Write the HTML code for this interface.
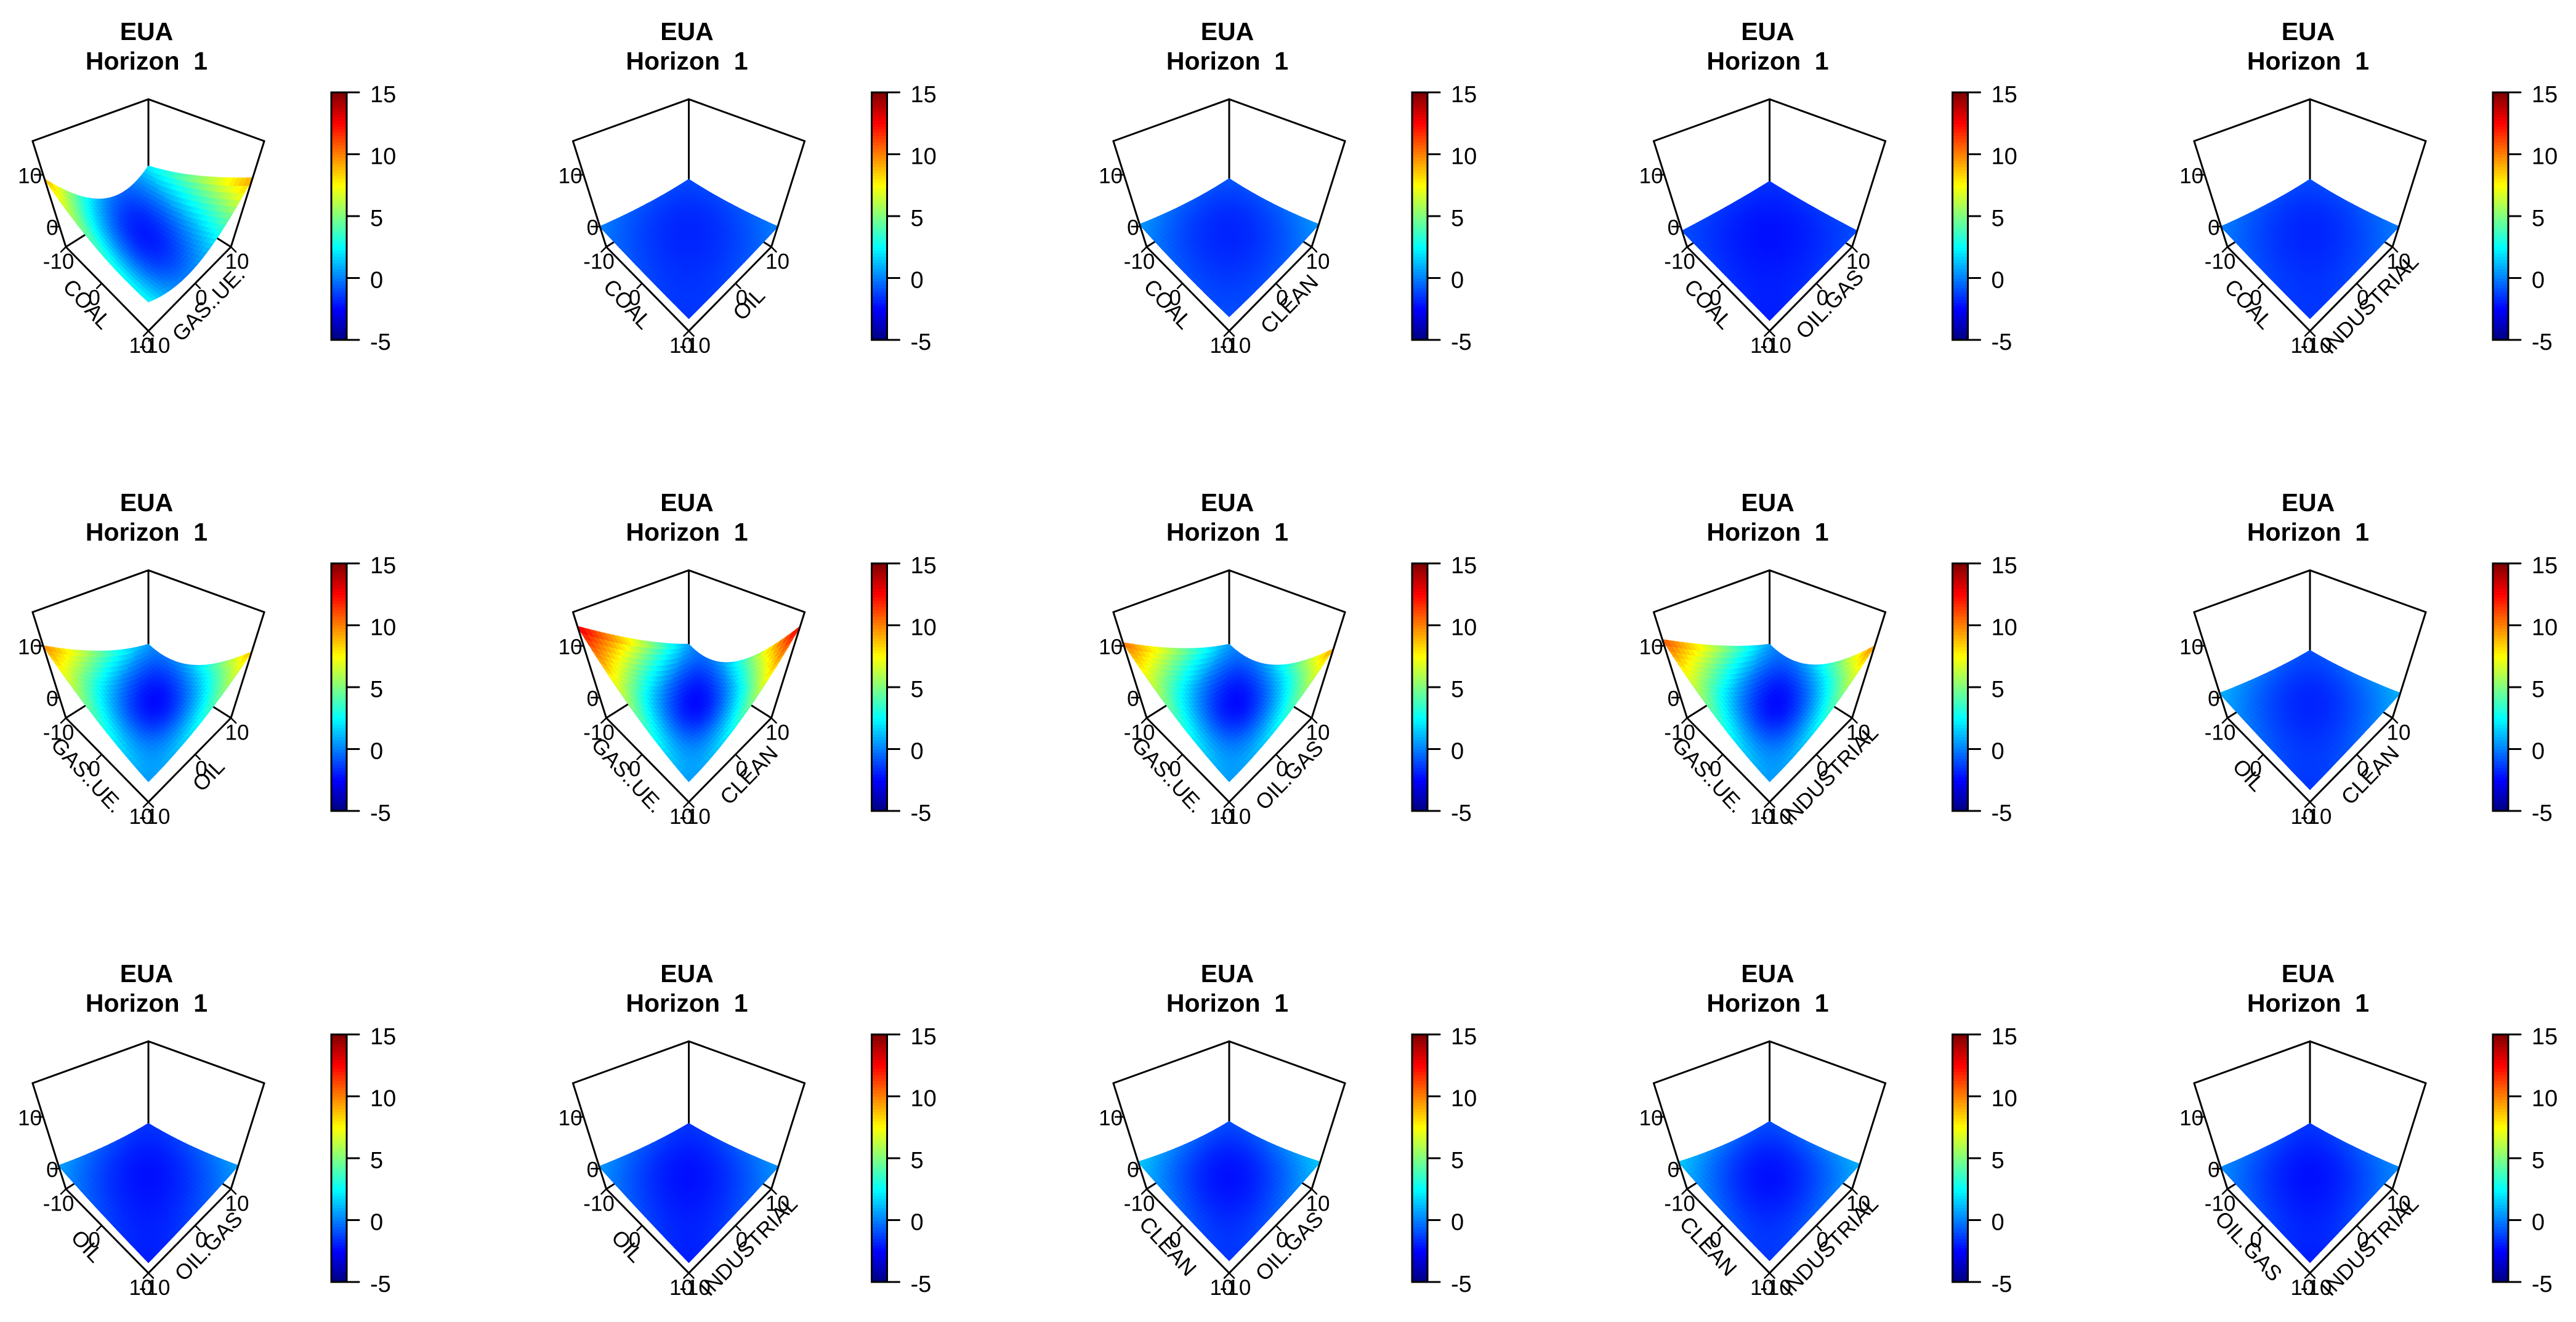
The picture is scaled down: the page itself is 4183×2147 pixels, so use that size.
<!DOCTYPE html>
<html><head><meta charset="utf-8"><title>EUA Horizon 1 surfaces</title>
<style>
html,body{margin:0;padding:0;background:#fff;}
svg{display:block;font-family:"Liberation Sans",Arial,sans-serif;}
</style></head>
<body>
<svg id="chart" width="4183" height="2147" viewBox="0 0 4183 2147" xmlns="http://www.w3.org/2000/svg"></svg>
<script>
// ---- data ----
const panelTitles = ["EUA","EUA","EUA","EUA","EUA","EUA","EUA","EUA","EUA","EUA","EUA","EUA","EUA","EUA","EUA"];
const xLabels = ["COAL","COAL","COAL","COAL","COAL","GAS..UE.","GAS..UE.","GAS..UE.","GAS..UE.","OIL","OIL","OIL","CLEAN","CLEAN","OIL.GAS"];
const yLabels = ["GAS..UE.","OIL","CLEAN","OIL.GAS","INDUSTRIAL","OIL","CLEAN","OIL.GAS","INDUSTRIAL","CLEAN","OIL.GAS","INDUSTRIAL","OIL.GAS","INDUSTRIAL","INDUSTRIAL"];
// 3x3 response grid per panel, order (x,y): (-10,-10),(-10,0),(-10,10),(0,-10),(0,0),(0,10),(10,-10),(10,0),(10,10)
const zGrid = [
  [9.3,0,2.2, 4,-2,5, 2.5,0.5,9.5],
  [0,-1,-1, -1,-1.8,-1, -1.5,-1,0],
  [0.5,-0.8,-0.8, -0.8,-1.8,-0.8, -1,-0.8,0.5],
  [-1,-1.5,-1.5, -1.5,-2.2,-1.5, -2,-1.5,-1],
  [0,-1,-1, -1,-1.8,-1, -1.5,-1,0],
  [10,4,0.5, 4,-2.2,1, 0.5,3,9],
  [13,6,0.5, 5,-2.2,1.5, 0.5,4,13],
  [10.5,4.5,0.5, 4,-2.2,1, 0.5,3,9.5],
  [11,5,0.5, 4,-2.2,1, 0.5,3,10],
  [1,-0.5,-1, -0.5,-1.8,-0.5, -1.5,-0.5,1],
  [0.7,-1,-1.5, -1,-2.2,-1, -2,-1,0.7],
  [0.5,-1,-1.5, -1,-2.2,-1, -2,-1,0.5],
  [1.5,-0.5,-1, -0.5,-2.2,-0.5, -1.5,-0.5,1.5],
  [1.5,-0.5,-1, -0.5,-2.2,-0.5, -1.5,-0.5,1],
  [0.3,-1,-1.5, -1,-2.2,-1, -2,-1,0.3]
];
const zTicks = [0, 10];
const axisTicks = [-10, 0, 10];
const cbTicks = [-5, 0, 5, 10, 15];
const zMin = -5, zMax = 15;

const NS = "http://www.w3.org/2000/svg";
const svg = document.getElementById("chart");
function mk(tag, attrs, parent){
  const e = document.createElementNS(NS, tag);
  for (const k in attrs) e.setAttribute(k, attrs[k]);
  (parent||svg).appendChild(e);
  return e;
}
const jetStops = [[0,[0,0,127]],[1/8,[0,0,255]],[3/8,[0,255,255]],[5/8,[255,255,0]],[7/8,[255,0,0]],[1,[127,0,0]]];
function jet(v){
  let t = (v - zMin)/(zMax - zMin); t = Math.max(0, Math.min(1, t));
  for (let i=1;i<jetStops.length;i++){
    if (t <= jetStops[i][0]){
      const a = jetStops[i-1], b = jetStops[i];
      const f = (t - a[0])/(b[0]-a[0]);
      const c = a[1].map((x,j)=>Math.round(x + (b[1][j]-x)*f));
      return "rgb("+c.join(",")+")";
    }
  }
  return "rgb(127,0,0)";
}
function L(t){ return [t*(t-1)/2, 1-t*t, t*(t+1)/2]; }
function interp(g, u, v){
  const a = L(u), b = L(v); let s = 0;
  for (let i=0;i<3;i++) for (let j=0;j<3;j++) s += a[i]*b[j]*g[i*3+j];
  return s;
}
const CC = 0.755, SS = 0.655, DD = 3.9, KK = 431.6;
function proj(ox, oy, u, v, z){
  const X = (u+v)/Math.SQRT2, Y = (v-u)/Math.SQRT2;
  const Z = (z - zMin)/(zMax - zMin)*2 - 1;
  const Vy = Y*SS + Z*CC, D = Y*CC - Z*SS;
  const sc = KK/(DD + D);
  return {x: ox + 241 + X*sc, y: oy + 329.5 - Vy*sc, d: D};
}
function line(g, p, q, name, w){
  const l = mk("line", {x1:p.x.toFixed(1), y1:p.y.toFixed(1), x2:q.x.toFixed(1), y2:q.y.toFixed(1), stroke:"#000", "stroke-width": w||3, "stroke-linecap":"round"}, g);
  
  
  return l;
}
function text(g, x, y, str, size, name, extra){
  const t = mk("text", Object.assign({x:x.toFixed(1), y:y.toFixed(1), "font-size":size, fill:"#000", "text-anchor":"middle", "dominant-baseline":"central"}, extra||{}), g);
  t.textContent = str;
  
  
  return t;
}

for (let p = 0; p < 15; p++){
  const row = Math.floor(p/5), col = p%5;
  const ox = col*877.5, oy = row*765;
  const g = mk("g", {});
  
  
  text(g, ox+238, oy+51, panelTitles[p], 41, 'panel-title', {"font-weight":"bold"});
  text(g, ox+238, oy+99, "Horizon\u00a0\u00a01", 41, 'panel-subtitle', {"font-weight":"bold"});
  const P = (u,v,z)=>proj(ox,oy,u,v,z);
  const bl = P(-1,-1,zMin), bb = P(-1,1,zMin), br = P(1,1,zMin), bf = P(1,-1,zMin);
  const tl = P(-1,-1,zMax), tb = P(-1,1,zMax), tr = P(1,1,zMax);
  line(g, bl, bb, 'box-base-back-left');
  line(g, bb, br, 'box-base-back-right');
  line(g, tb, bb, 'box-back-vertical');
  const N = 30, quads = [];
  const zg = zGrid[p];
  for (let i=0;i<N;i++) for (let j=0;j<N;j++){
    const u0=-1+2*i/N, u1=-1+2*(i+1)/N, v0=-1+2*j/N, v1=-1+2*(j+1)/N;
    const z00=interp(zg,u0,v0), z01=interp(zg,u0,v1), z11=interp(zg,u1,v1), z10=interp(zg,u1,v0);
    const pts=[P(u0,v0,z00),P(u0,v1,z01),P(u1,v1,z11),P(u1,v0,z10)];
    const zc=(z00+z01+z11+z10)/4;
    const dep=(pts[0].d+pts[1].d+pts[2].d+pts[3].d)/4;
    quads.push({pts, zc, dep});
  }
  quads.sort((a,b)=>b.dep-a.dep);
  const sg = mk("g", {}, g);
  
  
  for (const q of quads){
    const c = jet(q.zc);
    const poly = mk("polygon", {points: q.pts.map(s=>s.x.toFixed(1)+","+s.y.toFixed(1)).join(" "), fill:c, stroke:c, "stroke-width":1.5}, sg);
    
    
  }
  line(g, tl, tb, 'box-top-back-left');
  line(g, tb, tr, 'box-top-back-right');
  line(g, tl, bl, 'box-left-vertical');
  line(g, tr, br, 'box-right-vertical');
  line(g, bl, bf, 'x-axis-line');
  line(g, bf, br, 'y-axis-line');
  for (const zt of zTicks){
    const q = P(-1,-1,zt);
    line(g, q, {x:q.x-14, y:q.y}, 'z-axis-tick', 2.5);
    text(g, q.x-2, q.y+2, String(zt), 35, 'z-tick-label', {"text-anchor":"end"});
  }
  for (const t of axisTicks){
    const u = t/10;
    const a = P(u,-1,zMin);
    line(g, a, {x:a.x-8, y:a.y+8}, 'x-axis-tick', 2.5);
    text(g, a.x-12, a.y+24, String(t), 35, 'x-tick-label');
    const b = P(1,u,zMin);
    line(g, b, {x:b.x+8, y:b.y+8}, 'y-axis-tick', 2.5);
    text(g, b.x+10, b.y+24, String(t), 35, 'y-tick-label');
  }
  const mx = P(0,-1,zMin), my = P(1,0,zMin);
  const ax = mx.x-24, ay = mx.y+34;
  text(g, ax, ay, xLabels[p], 35, 'x-axis-title', {transform:"rotate(47 "+ax.toFixed(1)+" "+ay.toFixed(1)+")"});
  const bx = my.x+22, by = my.y+34;
  text(g, bx, by, yLabels[p], 35, 'y-axis-title', {transform:"rotate(-46 "+bx.toFixed(1)+" "+by.toFixed(1)+")"});
  const cbx = ox+538, cbTop = oy+150, cbBot = oy+552, cbw = 25;
  const cg = mk("g", {}, g);
  
  
  const steps = 80;
  for (let k=0;k<steps;k++){
    const v = zMin + (zMax-zMin)*(k+0.5)/steps;
    const y0 = cbBot - (cbBot-cbTop)*(k+1)/steps;
    const r = mk("rect", {x:cbx, y:y0.toFixed(1), width:cbw, height:((cbBot-cbTop)/steps+0.8).toFixed(1), fill:jet(v)}, cg);
    
    
  }
  const frame = mk("rect", {x:cbx, y:cbTop, width:cbw, height:cbBot-cbTop, fill:"none", stroke:"#000", "stroke-width":3}, cg);
  
  
  for (const t of cbTicks){
    const y = cbBot - (t - zMin)/(zMax-zMin)*(cbBot-cbTop);
    line(cg, {x:cbx+cbw, y}, {x:cbx+cbw+20, y}, 'colorbar-tick', 3);
    text(cg, cbx+63, y+4, String(t), 38, 'colorbar-tick-label', {"text-anchor":"start"});
  }
}
</script>
</body></html>
